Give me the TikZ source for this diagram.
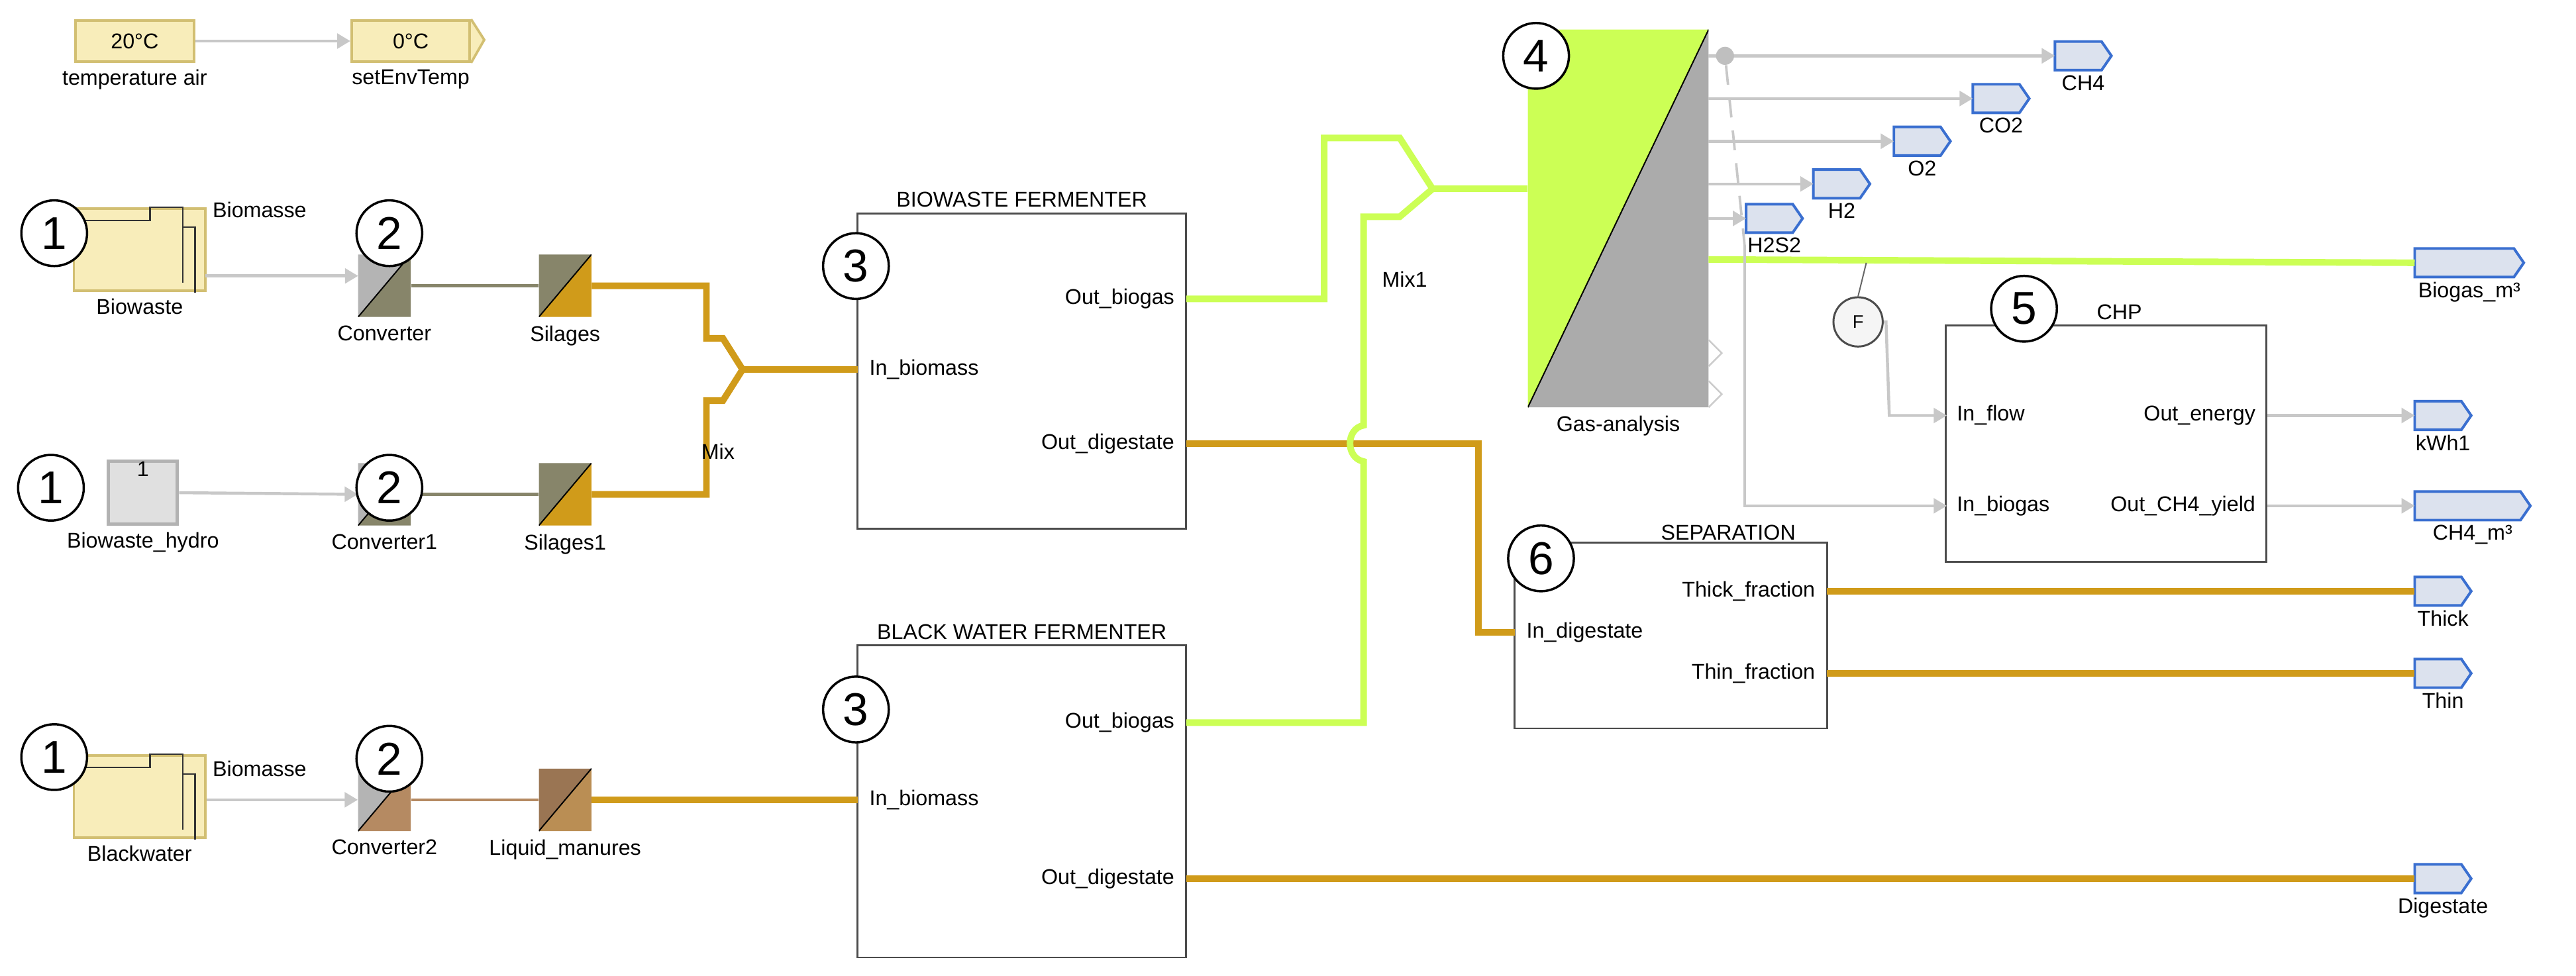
\documentclass[tikz,border=0pt]{standalone}
\usepackage{fontspec}
\setmainfont{Liberation Sans}
\usetikzlibrary{arrows.meta,positioning}
\definecolor{ora}{HTML}{D09B1A}
\definecolor{lime}{HTML}{CCFF55}
\definecolor{olive}{HTML}{87856A}
\definecolor{lgr}{HTML}{B4B4B4}
\definecolor{brn}{HTML}{B58A62}
\definecolor{ylw}{HTML}{F8EDBA}
\definecolor{ylwb}{HTML}{D2BF72}
\definecolor{wire}{HTML}{C8C8C8}
\definecolor{portb}{HTML}{3A6FD0}
\definecolor{portf}{HTML}{DCE2EE}
\tikzset{
 lbl/.style={font=\fontsize{13}{15}\selectfont, inner sep=1pt},
 num/.style={circle,draw,line width=1.4pt,fill=white,minimum size=40pt,inner sep=0pt,font=\fontsize{28}{30}\selectfont},
 split/.style 2 args={minimum width=32pt,minimum height=38pt,inner sep=0pt,
   path picture={\fill[#1] (path picture bounding box.south west)--(path picture bounding box.north west)--(path picture bounding box.north east)--cycle;
   \fill[#2] (path picture bounding box.south west)--(path picture bounding box.north east)--(path picture bounding box.south east)--cycle;
   \draw[black,line width=0.8pt] (path picture bounding box.south west)--(path picture bounding box.north east);}},
 sub/.style={draw=black!70,line width=1.2pt,inner sep=0pt},
 gw/.style={draw=wire,line width=1.8pt,-{Triangle[width=9pt,length=8pt]}},
 ow/.style={draw=ora,line width=4pt},
 lw/.style={draw=lime,line width=4pt},
}
\newcommand\oport[5]{%
 \node[minimum width=#4pt,minimum height=17pt,inner sep=0pt] (#1) at (#2,#3) {};
 \draw[portb,line width=1.6pt,fill=portf] (#1.north west)--([xshift=-6pt]#1.north east)--(#1.east)--([xshift=-6pt]#1.south east)--(#1.south west)--cycle;
 \node[lbl,below=2pt of #1.south] {#5};}
\begin{document}
\begin{tikzpicture}[x=1pt,y=-1pt]
\useasboundingbox[fill=white] (0,0) rectangle (1568,594);
% temperature
\node[draw=ylwb,fill=ylw,line width=1.5pt,minimum width=72pt,minimum height=25pt,lbl] (ta) at (82,25) {20°C};
\node[lbl,below=3pt of ta] {temperature air};
\node[draw=ylwb,fill=ylw,line width=1.5pt,minimum width=72pt,minimum height=25pt,lbl] (se) at (250,25) {0°C};
\draw[ylwb,line width=1.5pt,fill=ylw] (se.north east)--++(8,12.5)--(se.south east);
\node[lbl,below=3pt of se] {setEnvTemp};
\draw[gw] (ta.east)--(se.west);
% Biowaste sources
\foreach \n/\y/\t in {bw/152/Biowaste,bk/485/Blackwater}{
 \node[draw=ylwb,fill=ylw,line width=1.5pt,minimum width=80pt,minimum height=50pt] (\n) at (85,\y) {};
 \draw[black!80,line width=1pt] ([xshift=5pt,yshift=-8pt]\n.north west)--++(42,0)--++(0,-8)--++(20,0)--++(0,46);
 \draw[black!80,line width=1pt] ([xshift=-15pt,yshift=-12pt]\n.north east)--++(8,0)--++(0,40);
 \node[lbl,below=3pt of \n] {\t};
}
\node[draw=black!30,fill=black!12,line width=2pt,minimum width=42pt,minimum height=38pt] (bh) at (87,300) {};
\node[lbl,anchor=north] at (bh.north) {1};
\node[lbl,below=3pt of bh] {Biowaste\_hydro};
% converters
\node[split={lgr}{olive}] (c1) at (234,174) {};
\node[split={lgr}{olive}] (c2) at (234,301) {};
\node[split={lgr}{brn}] (c3) at (234,487) {};
\node[split={olive}{ora}] (s1) at (344,174) {};
\node[split={olive}{ora}] (s2) at (344,301) {};
\node[split={brn!85!black}{brn!80!ora}] (lm) at (344,487) {};
\foreach \n/\t in {c1/Converter,c2/Converter1,c3/Converter2,s1/Silages,s2/Silages1,lm/Liquid\_manures}
 \node[lbl,below=4pt of \n] {\t};
\coordinate (a1) at (125,168);
\coordinate (b1) at (218,168);
\draw[gw] (a1)--(b1);
\draw[gw] (bh.east)--(c2.west);
\draw[gw] (bk.east|-c3.west)--(c3.west);
\node[lbl] at (158,128) {Biomasse};
\node[lbl] at (158,468) {Biomasse};
\draw[olive,line width=1.8pt] (c1.east)--(s1.west);
\draw[olive,line width=1.8pt] (c2.east)--(s2.west);
\draw[brn,line width=1.8pt] (c3.east)--(lm.west);
% fermenters
\node[sub,minimum width=200pt,minimum height=192pt] (f1) at (622,226) {};
\node[lbl,above=2pt of f1] {BIOWASTE FERMENTER};
\node[lbl,anchor=west] (f1in) at (528,225) {In\_biomass};
\node[lbl,anchor=east] (f1bg) at (716,182) {Out\_biogas};
\node[lbl,anchor=east] (f1dg) at (716,270) {Out\_digestate};
\node[sub,minimum width=200pt,minimum height=190pt] (f2) at (622,488) {};
\node[lbl,above=2pt of f2] {BLACK WATER FERMENTER};
\node[lbl,anchor=west] at (528,487) {In\_biomass};
\node[lbl,anchor=east] at (716,440) {Out\_biogas};
\node[lbl,anchor=east] at (716,535) {Out\_digestate};
% Mix
\coordinate (mx) at (452,225);
\draw[ow,line join=miter] (s1.east)--(430,174)--(430,206)--(440,206)--(mx);
\draw[ow,line join=miter] (s2.east)--(430,301)--(430,244)--(440,244)--(mx);
\draw[ow] (mx)--(522,225);
\node[lbl] at (437,275) {Mix};
\draw[ow] (lm.east)--(522,487);
% Gas analysis
\node[minimum width=110pt,minimum height=230pt,inner sep=0pt,
 path picture={\fill[lime] (path picture bounding box.south west)--(path picture bounding box.north west)--(path picture bounding box.north east)--cycle;
 \fill[black!33] (path picture bounding box.south west)--(path picture bounding box.north east)--(path picture bounding box.south east)--cycle;
 \draw[black,line width=0.8pt] (path picture bounding box.south west)--(path picture bounding box.north east);}] (ga) at (985,133) {};
\node[lbl,below=4pt of ga] {Gas-analysis};
% digestate to separation (drawn before green so hop sits on top)
\node[sub,minimum width=190pt,minimum height=113pt] (sep) at (1017,387) {};
\node[lbl,anchor=south] at (1052,330) {SEPARATION};
\node[lbl,anchor=west] at (928,385) {In\_digestate};
\node[lbl,anchor=east] at (1106,360) {Thick\_fraction};
\node[lbl,anchor=east] at (1106,410) {Thin\_fraction};
\draw[ow,line join=miter] (722,270)--(900,270)--(900,385)--(922,385);
% Mix1 green
\coordinate (mx1) at (872,115);
\draw[lw,line join=miter] (722,182)--(806,182)--(806,84)--(852,84)--(mx1);
\draw[lw,line join=miter] (722,440)--(830,440)--(830,281) .. controls (819,279) and (819,261) .. (830,259) -- (830,132)--(852,132)--(mx1);
\draw[lw] (mx1)--(ga.west|-mx1);
\node[lbl] at (855,170) {Mix1};
% outputs
\oport{ch4}{1268}{34}{34}{CH4}
\oport{co2}{1218}{60}{34}{CO2}
\oport{o2}{1170}{86}{34}{O2}
\oport{h2}{1121}{112}{34}{H2}
\oport{h2s}{1080}{133}{34}{H2S2}
\oport{bgm}{1503}{160}{66}{Biogas\_m³}
\oport{kwh}{1487}{253}{34}{kWh1}
\oport{ch4m}{1505}{308}{70}{CH4\_m³}
\oport{thk}{1487}{360}{34}{Thick}
\oport{thn}{1487}{410}{34}{Thin}
\oport{dig}{1487}{535}{34}{Digestate}
\draw[gw] (1040,34)--(ch4.west);
\node[circle,fill=black!25,minimum size=11pt,inner sep=0pt] (dot) at (1050,34) {};
\draw[gw] (1040,60)--(co2.west);
\draw[gw] (1040,86)--(o2.west);
\draw[gw] (1040,112)--(h2.west);
\draw[gw] (1040,133)--(h2s.west);
\draw[wire,line width=1.5pt,dash pattern=on 12pt off 8pt] (dot)--(1062,150);
\draw[lw] (1040,158)--(bgm.west);
\foreach \yy in {215,240}\draw[black!20,line width=1pt] (1040,\yy-8)--(1048,\yy)--(1040,\yy+8);
% CHP
\node[sub,minimum width=195pt,minimum height=144pt] (chp) at (1282,270) {};
\node[lbl,anchor=south] at (1290,196) {CHP};
\node[lbl,anchor=west] at (1190,253) {In\_flow};
\node[lbl,anchor=west] at (1190,308) {In\_biogas};
\node[lbl,anchor=east] at (1374,253) {Out\_energy};
\node[lbl,anchor=east] at (1374,308) {Out\_CH4\_yield};
\node[circle,draw=black!70,fill=black!4,line width=1.2pt,minimum size=30pt,inner sep=0pt,font=\fontsize{11}{12}\selectfont] (F) at (1131,196) {F};
\draw[black!60,line width=0.8pt] (1136,160)--(F.north);
\draw[gw] (F.east)--(1148,196)--(1150,253)--(1185,253);
\draw[gw] (1062,150)--(1062,308)--(1185,308);
\draw[gw] (1380,253)--(kwh.west);
\draw[gw] (1380,308)--(ch4m.west);
\draw[ow] (1112,360)--(thk.west);
\draw[ow] (1112,410)--(thn.west);
\draw[ow] (722,535)--(dig.west);
% numbers
\node[num] (n1a) at (33,142) {1};
\node[num] (n1b) at (31,297) {1};
\node[num] (n1c) at (33,461) {1};
\node[num] (n2a) at (237,142) {2};
\node[num] (n2b) at (237,297) {2};
\node[num] (n2c) at (237,462) {2};
\node[num] (n3a) at (521,162) {3};
\node[num] (n3b) at (521,432) {3};
\node[num] (n4) at (935,34) {4};
\node[num] (n5) at (1232,188) {5};
\node[num] (n6) at (938,340) {6};
\end{tikzpicture}
\end{document}
